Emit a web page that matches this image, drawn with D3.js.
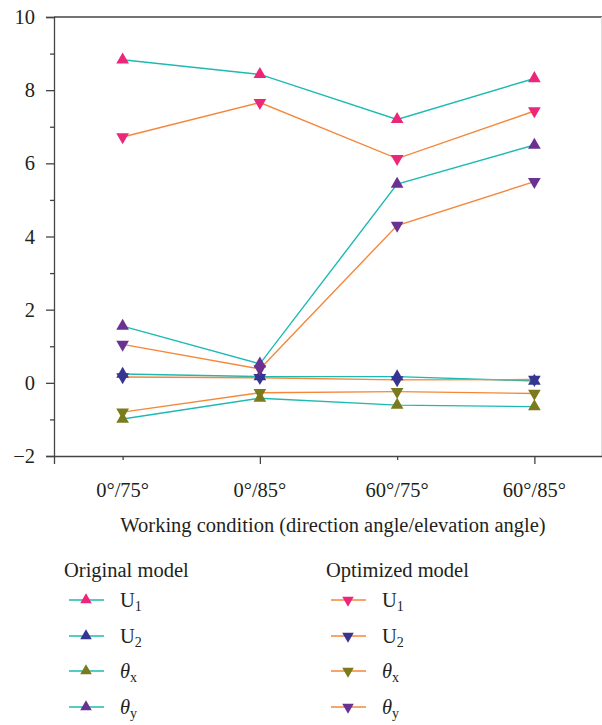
<!DOCTYPE html>
<html>
<head>
<meta charset="utf-8">
<script src="https://cdn.jsdelivr.net/npm/d3@7"></script>
<style>
  body { margin: 0; background: #fff; }
  text { font-family: "Liberation Serif", "DejaVu Serif", serif; fill: #231f20; }
</style>
</head>
<body>
<div id="chart"></div>
<script>
var conditions = ["0°/75°", "0°/85°", "60°/75°", "60°/85°"]
var yTicks = [-2, 0, 2, 4, 6, 8, 10]

// original model (teal lines, upward triangles)
var origU1 = [8.83, 8.43, 7.2, 8.32]
var origU2 = [0.24, 0.17, 0.17, 0.05]
var origThx = [-0.99, -0.42, -0.61, -0.65]
var origThy = [1.55, 0.52, 5.43, 6.5]

// optimized model (orange lines, downward triangles)
var optU1 = [6.72, 7.66, 6.13, 7.43]
var optU2 = [0.16, 0.14, 0.08, 0.09]
var optThx = [-0.8, -0.27, -0.24, -0.29]
var optThy = [1.05, 0.38, 4.3, 5.5]

var teal = "#1cbab3", orange = "#f5873a"
var markColors = {U1: "#ec2679", U2: "#363592", thx: "#7b7a1c", thy: "#6a3192"}

var series = [
  {model: "orig", key: "U1", values: origU1},
  {model: "orig", key: "U2", values: origU2},
  {model: "orig", key: "thx", values: origThx},
  {model: "orig", key: "thy", values: origThy},
  {model: "opt", key: "U1", values: optU1},
  {model: "opt", key: "U2", values: optU2},
  {model: "opt", key: "thx", values: optThx},
  {model: "opt", key: "thy", values: optThy}
]

var width = 602, height = 725, fs = 20.5

var svg = d3.select("#chart").append("svg")
    .attr("width", width)
    .attr("height", height)

var x = d3.scaleLinear().domain([0.5, 4.5]).range([54, 603])
var y = d3.scaleLinear().domain([-2, 10]).range([456, 17])

// frame: top dark line, right light line
svg.append("line")
    .attr("x1", 54).attr("x2", 602)
    .attr("y1", y(10)).attr("y2", y(10))
    .attr("stroke", "#444").attr("stroke-width", 1.3)
svg.append("line")
    .attr("x1", 601.5).attr("x2", 601.5)
    .attr("y1", y(10)).attr("y2", y(-2))
    .attr("stroke", "#ddd").attr("stroke-width", 1)

// y axis
var yAxis = svg.append("g")
    .attr("transform", "translate(54,0)")
    .call(d3.axisLeft(y).tickValues(yTicks).tickSize(8).tickPadding(11)
        .tickFormat(function(d){ return d < 0 ? "\u2212" + Math.abs(d) : d }))
yAxis.select(".domain").attr("stroke", "#444").attr("stroke-width", 1.3)
yAxis.selectAll(".tick line").attr("stroke", "#444").attr("stroke-width", 1.3)
yAxis.selectAll(".tick text").attr("font-size", fs).attr("font-family", null)

var yMinor = svg.append("g")
    .attr("transform", "translate(54,0)")
    .call(d3.axisLeft(y).tickValues([-1, 1, 3, 5, 7, 9]).tickSize(4).tickFormat(""))
yMinor.select(".domain").remove()
yMinor.selectAll(".tick line").attr("stroke", "#444").attr("stroke-width", 1.3)

// x axis: long ticks at 2 and 4, short at 1 and 3
var xAxis = svg.append("g")
    .attr("transform", "translate(0,456)")
    .call(d3.axisBottom(x).tickValues([2, 4]).tickSize(8).tickFormat(""))
xAxis.select(".domain").attr("stroke", "#444").attr("stroke-width", 1.3)
xAxis.selectAll(".tick line").attr("stroke", "#444").attr("stroke-width", 1.3)
var xMinor = svg.append("g")
    .attr("transform", "translate(0,456)")
    .call(d3.axisBottom(x).tickValues([1, 3]).tickSize(4).tickFormat(""))
xMinor.select(".domain").remove()
xMinor.selectAll(".tick line").attr("stroke", "#444").attr("stroke-width", 1.3)

svg.append("g").selectAll("text")
    .data(conditions)
    .enter().append("text")
    .attr("x", function(d, i){ return x(i + 1) })
    .attr("y", 497)
    .attr("text-anchor", "middle")
    .attr("font-size", fs)
    .text(function(d){ return d })

svg.append("text")
    .attr("x", 333).attr("y", 532)
    .attr("text-anchor", "middle")
    .attr("font-size", fs)
    .text("Working condition (direction angle/elevation angle)")

// lines
var line = d3.line()
    .x(function(d, i){ return x(i + 1) })
    .y(function(d){ return y(d) })

svg.append("g").selectAll("path")
    .data(series)
    .enter().append("path")
    .attr("d", function(d){ return line(d.values) })
    .attr("fill", "none")
    .attr("stroke", function(d){ return d.model == "orig" ? teal : orange })
    .attr("stroke-width", 1.4)

var tri = d3.symbol().type(d3.symbolTriangle).size(70)
var triSmall = d3.symbol().type(d3.symbolTriangle).size(58)

function marker(sel, s, shape) {
  sel.attr("d", shape || tri)
     .attr("fill", markColors[s.key])
}

series.forEach(function(s){
  svg.append("g").selectAll("path")
    .data(s.values)
    .enter().append("path")
    .attr("transform", function(d, i){
      return "translate(" + x(i + 1) + "," + y(d) + ")" + (s.model == "opt" ? " rotate(180)" : "")
    })
    .call(marker, s)
})

// legend
var legendRows = [600, 636, 671, 707]
var groups = [
  {model: "orig", title: "Original model", x: 64, color: teal},
  {model: "opt", title: "Optimized model", x: 326, color: orange}
]

groups.forEach(function(g){
  var lg = svg.append("g").attr("transform", "translate(" + g.x + ",0)")
  lg.append("text").attr("x", 0).attr("y", 577).attr("font-size", fs).text(g.title)
  var items = series.filter(function(s){ return s.model == g.model })
  items.forEach(function(s, i){
    var yy = legendRows[i]
    lg.append("line")
      .attr("x1", 5).attr("x2", 40)
      .attr("y1", yy).attr("y2", yy)
      .attr("stroke", g.color).attr("stroke-width", 1.4)
    lg.append("path")
      .attr("transform", "translate(22," + yy + ")" + (g.model == "opt" ? " rotate(180)" : ""))
      .call(marker, s, triSmall)
    var t = lg.append("text").attr("x", 56).attr("y", yy + 7).attr("font-size", fs)
    if (s.key == "U1" || s.key == "U2") {
      t.append("tspan").text("U")
      t.append("tspan").attr("font-size", 14).attr("dy", 4).text(s.key.charAt(1))
    } else {
      t.append("tspan").attr("font-style", "italic").text("\u03b8")
      t.append("tspan").attr("font-size", 14).attr("dy", 4).text(s.key.charAt(2))
    }
  })
})
</script>
</body>
</html>
